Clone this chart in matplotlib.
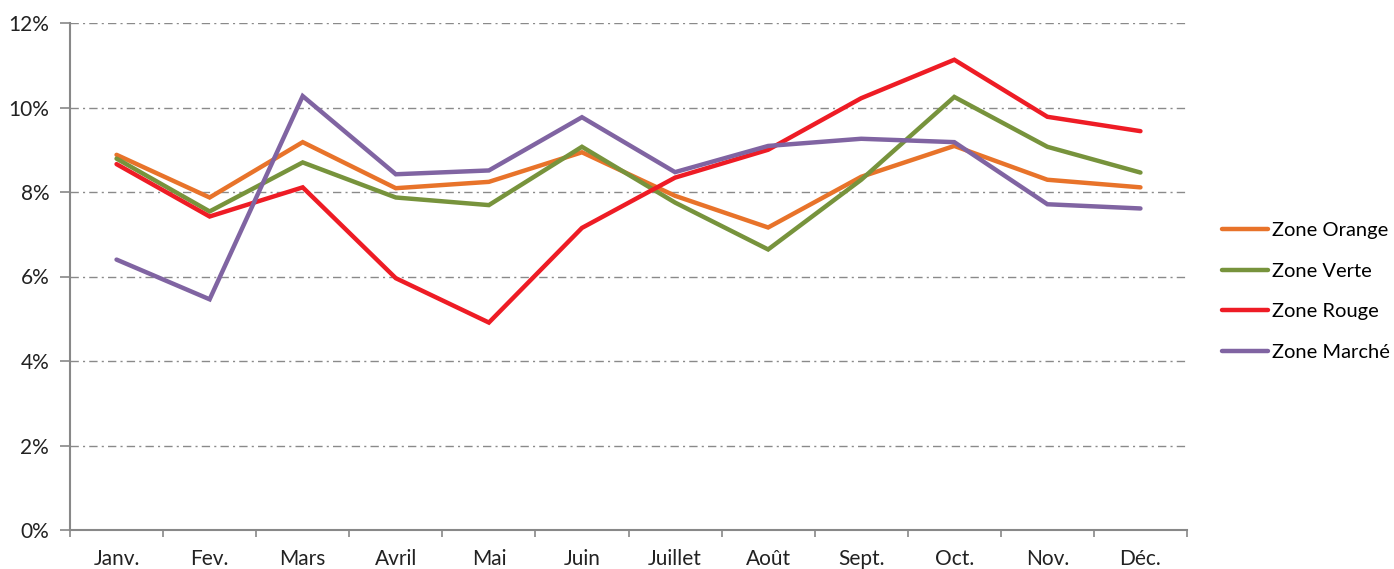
import numpy as np
import matplotlib.pyplot as plt
from matplotlib.ticker import FuncFormatter

plt.rcParams['font.family'] = ['Lato', 'DejaVu Sans']
plt.rcParams['lines.scale_dashes'] = False

months = ["Janv.", "Fev.", "Mars", "Avril", "Mai", "Juin",
          "Juillet", "Août", "Sept.", "Oct.", "Nov.", "Déc."]

zone_orange = [8.88, 7.87, 9.18, 8.09, 8.24, 8.94, 7.91, 7.16, 8.36, 9.09, 8.29, 8.11]
zone_verte = [8.79, 7.54, 8.70, 7.87, 7.69, 9.07, 7.75, 6.64, 8.29, 10.25, 9.07, 8.46]
zone_rouge = [8.66, 7.42, 8.11, 5.96, 4.91, 7.15, 8.34, 9.00, 10.22, 11.13, 9.78, 9.44]
zone_marche = [6.40, 5.46, 10.27, 8.42, 8.51, 9.77, 8.47, 9.09, 9.26, 9.18, 7.71, 7.61]

series = [
    ("Zone Orange", zone_orange, "#E8732A"),
    ("Zone Verte", zone_verte, "#77933C"),
    ("Zone Rouge", zone_rouge, "#EE1C25"),
    ("Zone Marché", zone_marche, "#8064A2"),
]

fig = plt.figure(figsize=(13.94, 5.69), dpi=100)
ax = fig.add_axes([70 / 1394, 1 - 530 / 569, (1187 - 70) / 1394, (530 - 23) / 569])

x = np.arange(len(months))
for name, vals, col in series:
    ax.plot(x, vals, color=col, lw=3.2, label=name, solid_joinstyle="miter",
            solid_capstyle="round")

ax.set_xlim(-0.5, 11.5)
ax.set_ylim(0, 12)
ax.set_yticks(np.arange(0, 13, 2))
ax.yaxis.set_major_formatter(FuncFormatter(lambda v, p: f"{v:.0f}%"))
ax.set_xticks(x)
ax.set_xticklabels(months)
ax.set_xticks(np.arange(-0.5, 12, 1), minor=True)
ax.tick_params(axis="x", which="major", length=0, pad=14, labelsize=15, colors="#222222")
ax.tick_params(axis="x", which="minor", length=5, width=1.2, color="#888888")
ax.tick_params(axis="y", length=7, width=1.2, color="#888888", labelsize=15,
               labelcolor="#222222", pad=8)

for v in np.arange(2, 13, 2):
    ax.axhline(v, color="#8a8a8a", lw=1, linestyle=(0, (6, 3, 1.5, 3)), zorder=0)

for s in ["top", "right"]:
    ax.spines[s].set_visible(False)
for s in ["left", "bottom"]:
    ax.spines[s].set_color("#888888")
    ax.spines[s].set_linewidth(1.5)

fig.legend(loc="center left", bbox_to_anchor=(1204 / 1394, 1 - 291.5 / 569),
           frameon=False, fontsize=14.5, handlelength=2.29, handletextpad=0.2,
           labelspacing=1.16)

fig.savefig("out.png", dpi=100)
